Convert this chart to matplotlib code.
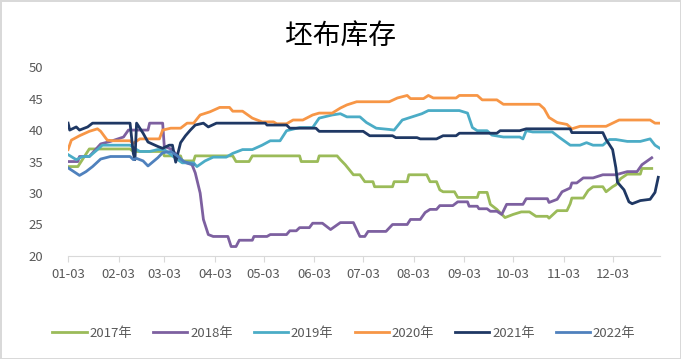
import matplotlib
matplotlib.use("Agg")
import matplotlib.pyplot as plt
import pandas as pd

plt.rcParams['font.family'] = ['Noto Sans CJK SC', 'DejaVu Sans']

# day-of-year / value pairs (weekly-ish stock data)
d2017 = [3, 9, 16, 41, 43, 61, 62, 72, 73, 80, 81, 104, 106, 114, 116, 145, 146, 156, 157, 168,
         170, 173, 178, 182, 185, 190, 191, 202, 203, 211, 212, 223, 225, 229, 231, 233, 240, 242,
         254, 255, 260, 262, 266, 271, 276, 281, 286, 290, 297, 298, 303, 309, 311, 312, 319, 322,
         325, 331, 333, 337, 339, 342, 346, 354, 355, 361]
v2017 = [34.2, 34.2, 37, 37, 36.6, 36.6, 35.9, 35.9, 35.1, 35.1, 35.9, 35.9, 35, 35, 35.9, 35.9, 35, 35, 35.9, 35.9,
         35.3, 34.5, 32.9, 32.9, 31.8, 31.8, 31, 31, 31.8, 31.8, 32.9, 32.9, 31.8, 31.8, 30.5, 30.2, 30.2, 29.3,
         29.3, 30.1, 30.1, 28.2, 27.4, 26.1, 26.6, 27, 27, 26.3, 26.3, 26, 27.2, 27.2, 28.3, 29.2, 29.2, 30.4,
         31, 31, 30.2, 31, 31.3, 32.3, 33, 33, 33.9, 33.9]

d2018 = [3, 9, 10, 16, 23, 29, 37, 40, 52, 53, 61, 62, 66, 70, 73, 79, 81, 84, 86, 89, 92, 101, 103,
         106, 108, 116, 117, 125, 127, 137, 139, 143, 145, 151, 153, 159, 164, 170, 178, 182, 185, 187,
         198, 202, 211, 213, 219, 222, 225, 229, 231, 239, 242, 248, 249, 254, 255, 260, 262, 266, 269,
         272, 282, 284, 297, 298, 303, 306, 311, 312, 315, 319, 325, 331, 339, 346, 352, 355, 361]
v2018 = [35, 35, 35.8, 35.8, 37.8, 38.2, 38.9, 40, 40, 41.1, 41.1, 37.4, 37, 36, 35, 34.5, 33.2, 30, 25.8, 23.4, 23.1, 23.1, 21.5,
         21.5, 22.5, 22.5, 23.1, 23.1, 23.4, 23.4, 24, 24, 24.5, 24.5, 25.2, 25.2, 24.2, 25.3, 25.3, 23.1, 23.1, 23.9,
         23.9, 25, 25, 25.8, 25.8, 26.9, 27.4, 27.4, 28, 28, 28.6, 28.6, 27.9, 27.9, 27.5, 27.5, 27.1, 27.1, 26.6,
         28.2, 28.2, 29.1, 29.1, 28.5, 29, 30.2, 30.8, 31.6, 31.6, 32.4, 32.4, 32.9, 32.9, 33.4, 33.4, 34.5, 35.6]

d2019 = [3, 8, 12, 16, 21, 24, 41, 45, 47, 53, 58, 62, 67, 73, 80, 82, 87, 92, 100, 104, 110, 116, 122,
         127, 133, 137, 145, 153, 157, 165, 170, 174, 182, 186, 192, 200, 203, 208, 214, 220, 224, 243, 248,
         251, 254, 260, 263, 270, 280, 282, 284, 288, 300, 304, 311, 317, 321, 325, 331, 335, 339, 346, 354,
         360, 363, 366]
v2019 = [36.1, 35.3, 35.8, 35.8, 36.9, 37.6, 37.6, 36.9, 36.6, 36.6, 36.9, 36.9, 35.9, 34.8, 34.8, 34.2, 35.1, 35.7, 35.7, 36.3, 36.9, 36.9, 37.6,
         38.3, 38.3, 39.9, 40.4, 40.4, 41.9, 42.4, 42.6, 42.1, 42.1, 41.2, 40.3, 40.1, 40, 41.6, 42.1, 42.6, 43.1, 43.1, 42.7,
         40.4, 39.9, 39.9, 39.2, 38.9, 38.9, 38.6, 39.9, 39.7, 39.7, 38.9, 37.6, 37.6, 38, 37.6, 37.6, 38.5, 38.5, 38.2, 38.2,
         38.6, 37.6, 37.1]

d2020 = [3, 5, 10, 16, 21, 23, 27, 31, 41, 43, 47, 59, 61, 66, 72, 76, 80, 84, 90, 96, 102, 104, 110,
         116, 122, 129, 131, 137, 141, 147, 153, 157, 165, 170, 174, 180, 200, 205, 211, 213, 221, 224, 227,
         241, 243, 254, 257, 266, 270, 292, 295, 298, 303, 309, 312, 317, 333, 341, 360, 363, 366]
v2020 = [36.9, 38.4, 39.1, 39.8, 40.2, 39.8, 38.4, 38.3, 38.3, 37.9, 38.6, 38.6, 40, 40.3, 40.3, 41.1, 41.1, 42.4, 42.9, 43.6, 43.6, 43, 43,
         41.9, 41.3, 41.3, 41, 41, 41.6, 41.6, 42.4, 42.7, 42.7, 43.5, 44, 44.5, 44.5, 45.1, 45.5, 45, 45, 45.5, 45.1,
         45.1, 45.5, 45.5, 44.8, 44.8, 44.1, 44.1, 43.4, 42, 41.2, 40.9, 40.2, 40.6, 40.6, 41.6, 41.6, 41.1, 41.1]

d2021 = [3, 4, 8, 10, 15, 18, 41, 43, 44, 45, 49, 52, 58, 61, 65, 67, 69, 72, 75, 78, 81, 86, 89,
         94, 124, 125, 137, 139, 155, 157, 184, 188, 202, 204, 217, 219, 229, 233, 241, 243, 266, 268, 280,
         284, 311, 312, 331, 333, 337, 339, 340, 344, 347, 349, 354, 360, 363, 365]
v2021 = [41.1, 40, 40.5, 40, 40.5, 41.1, 41.1, 36.3, 35.3, 41.1, 39.5, 38.1, 37.4, 37.1, 37.6, 37.6, 34.9, 38, 39.1, 40, 40.8, 41.1, 40.5,
         41.1, 41.1, 40.8, 40.8, 40.3, 40.3, 39.8, 39.8, 39.1, 39.1, 38.8, 38.8, 38.6, 38.6, 39.1, 39.1, 39.5, 39.5, 39.9, 39.9,
         40.2, 40.2, 39.6, 39.6, 38.5, 36.9, 34.0, 31.7, 30.5, 28.6, 28.3, 28.8, 29.0, 30.1, 32.5]

d2022 = [3, 10, 14, 18, 23, 29, 41, 43, 45, 49, 52, 58, 61, 66, 70, 74, 80]
v2022 = [34, 32.8, 33.4, 34.2, 35.4, 35.8, 35.8, 35.3, 35.5, 35.1, 34.3, 35.6, 36.4, 36.6, 35.9, 35, 34.5]

series = [
    ("2017年", d2017, v2017, "#9bbb59"),
    ("2018年", d2018, v2018, "#7d60a0"),
    ("2019年", d2019, v2019, "#4bacc6"),
    ("2020年", d2020, v2020, "#f79646"),
    ("2021年", d2021, v2021, "#1f3864"),
    ("2022年", d2022, v2022, "#4f81bd"),
]

tick_days = [pd.Timestamp(2021, m, 3).dayofyear for m in range(1, 13)]
tick_labels = [f"{m:02d}-03" for m in range(1, 13)]

fig = plt.figure(figsize=(6.81, 3.59), dpi=100, edgecolor="#d9d9d9", linewidth=2)
ax = fig.add_axes([0.1, 0.287, 0.869, 0.526])

for name, d, v, c in series:
    ax.plot(d, v, color=c, lw=2.0, label=name, solid_joinstyle="round")

ax.set_xlim(3, 366)
ax.set_ylim(20, 50)
ax.set_yticks(range(20, 51, 5))
ax.set_xticks(tick_days)
ax.set_xticklabels(tick_labels)

for s in ["top", "right", "left"]:
    ax.spines[s].set_visible(False)
ax.spines["bottom"].set_color("#d9d9d9")
ax.tick_params(axis="y", length=0, pad=18, labelsize=9.5, labelcolor="#595959")
ax.tick_params(axis="x", length=4, color="#d9d9d9", pad=5, labelsize=9.5, labelcolor="#595959")

fig.text(0.5, 0.9, "坯布库存", ha="center", va="center", fontsize=20, color="#000000")

fig.legend(loc="center", bbox_to_anchor=(0.505, 0.072), ncol=6, frameon=False,
           fontsize=9.5, handlelength=2.6, columnspacing=1.6, handletextpad=0.2,
           labelcolor="#595959")

fig.savefig("out.png", dpi=100)
